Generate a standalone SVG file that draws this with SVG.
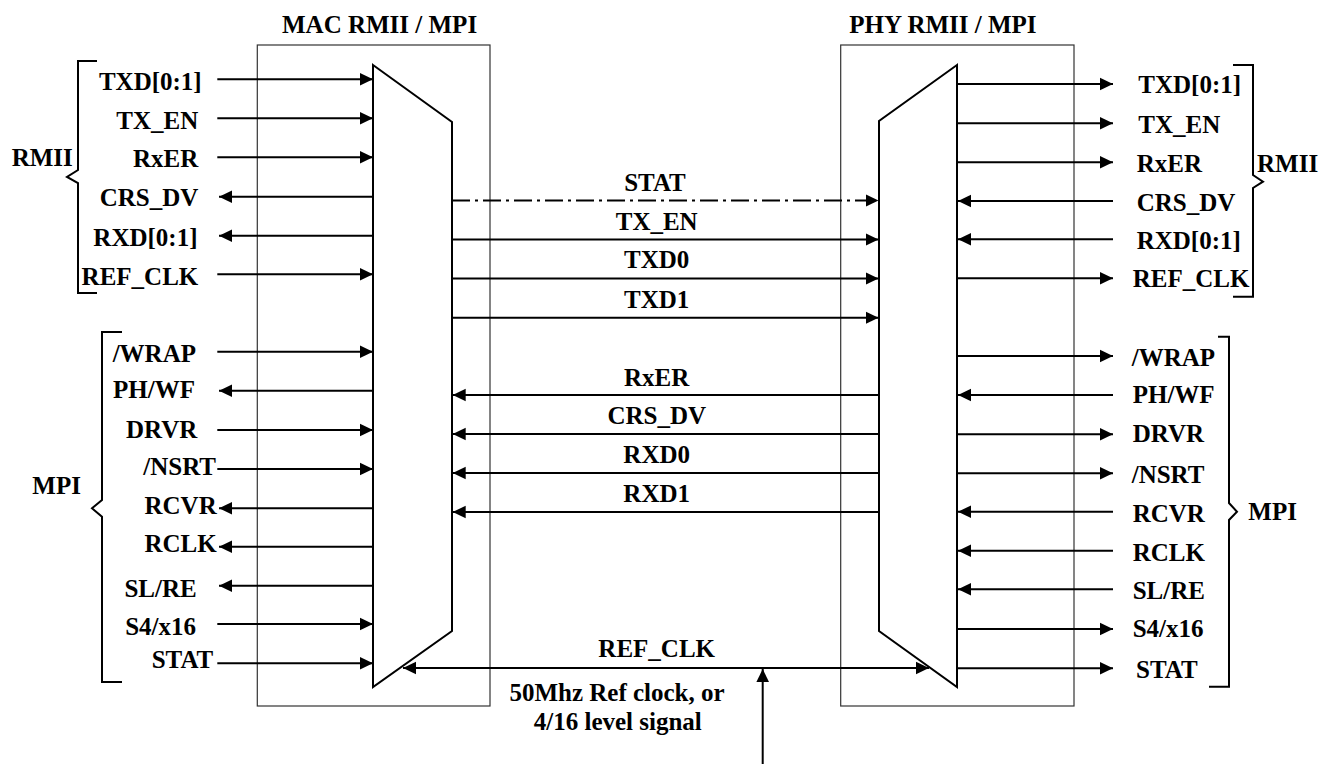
<svg xmlns="http://www.w3.org/2000/svg" width="1319" height="764" viewBox="0 0 1319 764">
<style>
text{font-family:"Liberation Serif","Times New Roman",serif;font-weight:bold;font-size:25px;fill:#000}
.e{text-anchor:end}
.m{text-anchor:middle}
.box{fill:none;stroke:#333;stroke-width:1.2}
.trap{fill:none;stroke:#000;stroke-width:2}
.br{fill:none;stroke:#000;stroke-width:2}
.w{stroke:#000;stroke-width:2;fill:none}
.a{marker-end:url(#ah)}
.b{marker-start:url(#ah);marker-end:url(#ah)}
.dd{stroke-dasharray:18 5 3 5}
</style>
<defs>
<marker id="ah" markerWidth="14" markerHeight="14" viewBox="0 0 14 14" refX="13" refY="7" orient="auto-start-reverse" markerUnits="userSpaceOnUse">
<path d="M0,0.7 L13,7 L0,13.3 z" fill="#000"/>
</marker>
</defs>
<g id="mac">
<rect class="box" x="257.3" y="45" width="232.7" height="661"/>
<path class="trap" d="M373,65 L452,122 L452,631 L373,687 Z"/>
<text x="282" y="32.5">MAC RMII / MPI</text>
</g>
<g id="phy">
<rect class="box" x="840.7" y="45" width="233.3" height="661"/>
<path class="trap" d="M957,65 L879,121 L879,631 L957,687 Z"/>
<text x="849.3" y="32.5">PHY RMII / MPI</text>
</g>
<g id="left-labels">
<path class="br" d="M97,61 L78,61 L78,170 L67,177 L78,183 L78,293 L97,293"/>
<path class="br" d="M122,332 L102,332 L102,500 L92,508.3 L102,516.7 L102,682 L122,682"/>
<text x="11.7" y="165.7">RMII</text>
<text x="32.3" y="494">MPI</text>
<text class="e" x="201.7" y="89.5">TXD[0:1]</text>
<text class="e" x="198.3" y="128.5">TX_EN</text>
<text class="e" x="198.3" y="167">RxER</text>
<text class="e" x="198.3" y="206">CRS_DV</text>
<text class="e" x="197.5" y="245.5">RXD[0:1]</text>
<text class="e" x="198.3" y="284.5">REF_CLK</text>
<text class="e" x="196" y="361.5">/WRAP</text>
<text class="e" x="195" y="398">PH/WF</text>
<text class="e" x="197.3" y="438">DRVR</text>
<text class="e" x="216" y="475">/NSRT</text>
<text class="e" x="216.7" y="513.5">RCVR</text>
<text class="e" x="216.7" y="552">RCLK</text>
<text class="e" x="196.7" y="596.5">SL/RE</text>
<text class="e" x="196" y="634.5">S4/x16</text>
<text class="e" x="213.3" y="668">STAT</text>
</g>
<g id="right-labels">
<path class="br" d="M1233,65 L1253,65 L1253,175 L1263,181.7 L1253,188 L1253,296.7 L1233,296.7"/>
<path class="br" d="M1218,336.7 L1229,336.7 L1229,503 L1237,511.7 L1229,520 L1229,686.7 L1209,686.7"/>
<text x="1257" y="171.7">RMII</text>
<text x="1248.3" y="520">MPI</text>
<text x="1138.3" y="93.3">TXD[0:1]</text>
<text x="1138.3" y="132.7">TX_EN</text>
<text x="1136.7" y="171.7">RxER</text>
<text x="1136.7" y="211">CRS_DV</text>
<text x="1136.7" y="249.3">RXD[0:1]</text>
<text x="1132.7" y="287.3">REF_CLK</text>
<text x="1131.7" y="365.7">/WRAP</text>
<text x="1132.7" y="402.7">PH/WF</text>
<text x="1132.7" y="441.7">DRVR</text>
<text x="1131.7" y="482.7">/NSRT</text>
<text x="1132.7" y="521.7">RCVR</text>
<text x="1132.7" y="560.7">RCLK</text>
<text x="1132.7" y="599">SL/RE</text>
<text x="1132.7" y="637.3">S4/x16</text>
<text x="1136" y="677.7">STAT</text>
</g>
<g id="middle-labels">
<text class="m" x="655" y="191">STAT</text>
<text class="m" x="656.7" y="230">TX_EN</text>
<text class="m" x="656.7" y="268.3">TXD0</text>
<text class="m" x="656.7" y="307.7">TXD1</text>
<text class="m" x="656.7" y="386">RxER</text>
<text class="m" x="656.7" y="424.3">CRS_DV</text>
<text class="m" x="656.7" y="463.3">RXD0</text>
<text class="m" x="656.7" y="501.7">RXD1</text>
<text class="m" x="656.7" y="657.3">REF_CLK</text>
<text class="m" x="617" y="701">50Mhz Ref clock, or</text>
<text class="m" x="617.8" y="730">4/16 level signal</text>
</g>
<g id="connectors">
<line class="w a" x1="217.3" y1="79.3" x2="373" y2="79.3"/>
<line class="w a" x1="217.3" y1="118.3" x2="373" y2="118.3"/>
<line class="w a" x1="217.3" y1="157.3" x2="373" y2="157.3"/>
<line class="w a" x1="373" y1="196.7" x2="219" y2="196.7"/>
<line class="w a" x1="373" y1="235.7" x2="219" y2="235.7"/>
<line class="w a" x1="217.3" y1="274.3" x2="373" y2="274.3"/>
<line class="w a" x1="217.3" y1="351.7" x2="373" y2="351.7"/>
<line class="w a" x1="373" y1="390.7" x2="219" y2="390.7"/>
<line class="w a" x1="217.3" y1="430" x2="373" y2="430"/>
<line class="w a" x1="217.3" y1="469" x2="373" y2="469"/>
<line class="w a" x1="373" y1="508.3" x2="219" y2="508.3"/>
<line class="w a" x1="373" y1="546.7" x2="219" y2="546.7"/>
<line class="w a" x1="373" y1="585.7" x2="219" y2="585.7"/>
<line class="w a" x1="217.3" y1="624" x2="373" y2="624"/>
<line class="w a" x1="217.3" y1="663.3" x2="373" y2="663.3"/>
<line class="w a" x1="957" y1="84" x2="1113" y2="84"/>
<line class="w a" x1="957" y1="123.3" x2="1113" y2="123.3"/>
<line class="w a" x1="957" y1="162.3" x2="1113" y2="162.3"/>
<line class="w a" x1="1113" y1="201" x2="958" y2="201"/>
<line class="w a" x1="1113" y1="239.3" x2="958" y2="239.3"/>
<line class="w a" x1="957" y1="278.3" x2="1113" y2="278.3"/>
<line class="w a" x1="957" y1="356" x2="1113" y2="356"/>
<line class="w a" x1="1113" y1="395" x2="958" y2="395"/>
<line class="w a" x1="957" y1="434.3" x2="1113" y2="434.3"/>
<line class="w a" x1="957" y1="473.3" x2="1113" y2="473.3"/>
<line class="w a" x1="1113" y1="511.7" x2="958" y2="511.7"/>
<line class="w a" x1="1113" y1="550.7" x2="958" y2="550.7"/>
<line class="w a" x1="1113" y1="589.3" x2="958" y2="589.3"/>
<line class="w a" x1="957" y1="629" x2="1113" y2="629"/>
<line class="w a" x1="957" y1="668.3" x2="1113" y2="668.3"/>
<line class="w a dd" x1="452" y1="200.5" x2="878.5" y2="200.5"/>
<line class="w a" x1="452" y1="239.5" x2="878.5" y2="239.5"/>
<line class="w a" x1="452" y1="278.5" x2="878.5" y2="278.5"/>
<line class="w a" x1="452" y1="317.8" x2="878.5" y2="317.8"/>
<line class="w a" x1="879" y1="395" x2="452.7" y2="395"/>
<line class="w a" x1="879" y1="434" x2="452.7" y2="434"/>
<line class="w a" x1="879" y1="473" x2="452.7" y2="473"/>
<line class="w a" x1="879" y1="512" x2="452.7" y2="512"/>
<line class="w b" x1="403" y1="668" x2="929" y2="668"/>
<line class="w a" x1="762.7" y1="764" x2="762.7" y2="669"/>
</g>
</svg>
